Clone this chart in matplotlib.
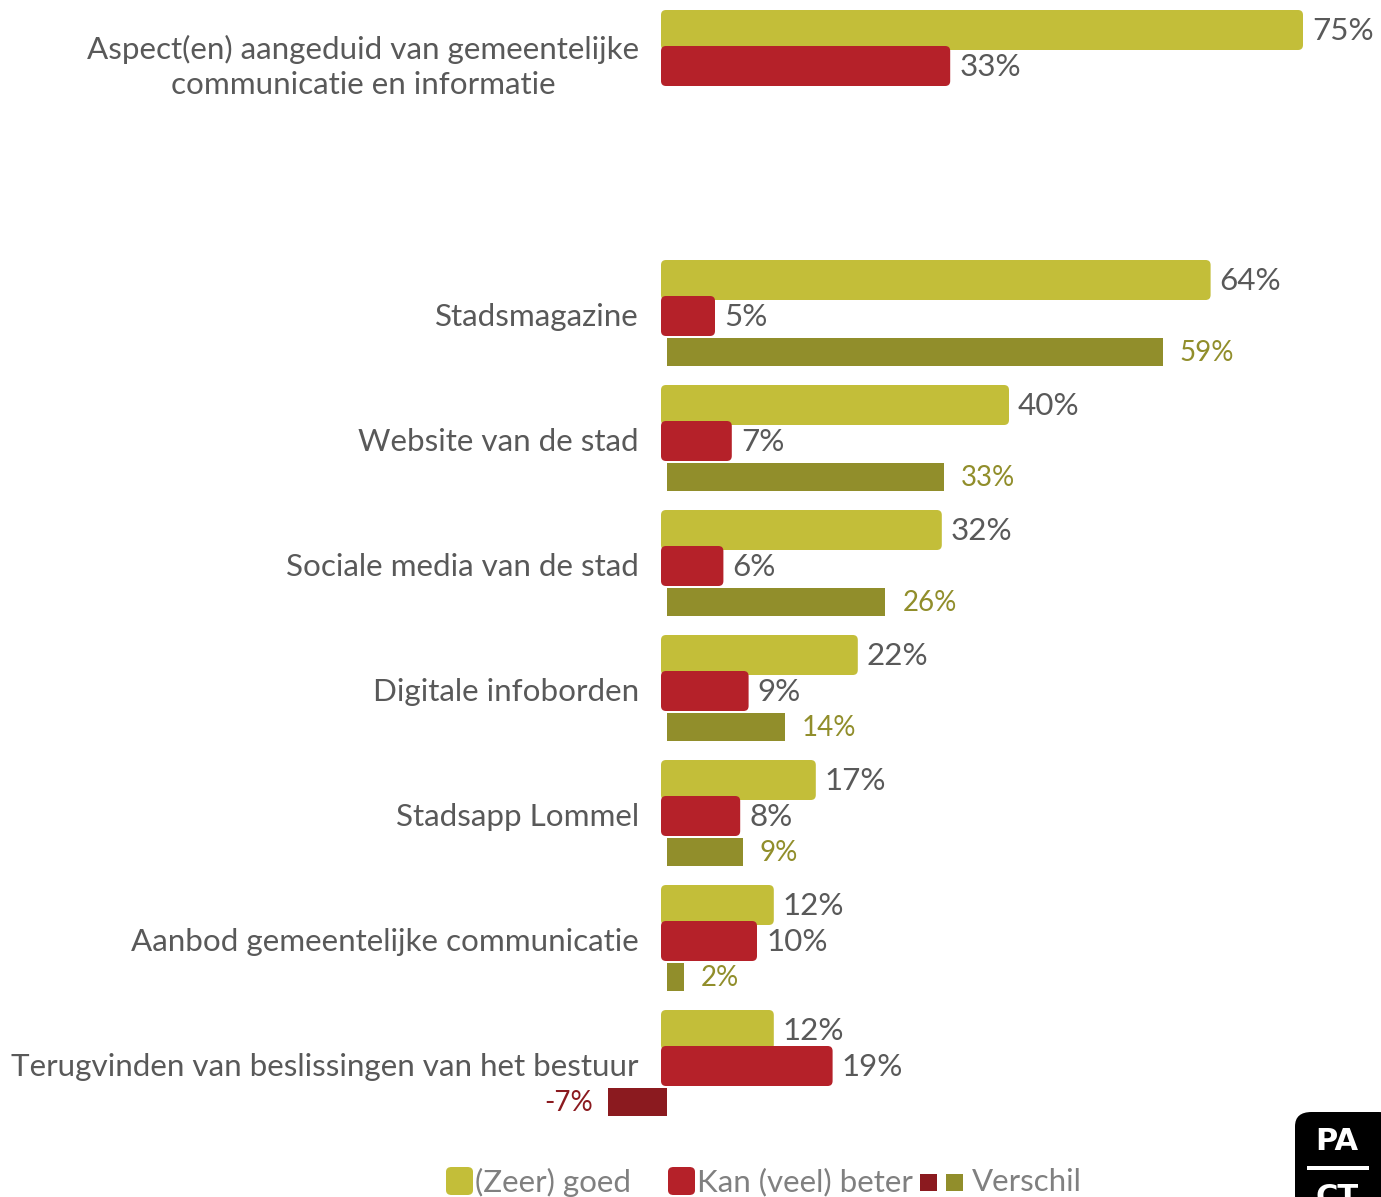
import matplotlib
import numpy as np
import matplotlib.pyplot as plt
from matplotlib.patches import FancyBboxPatch, Rectangle

W, H = 1381, 1197
PX_PER_PCT = 8.40
ZERO_PX = 667
PAD_PX = 6

matplotlib.rcParams.update({'font.family': ['Lato', 'DejaVu Sans']})

categories = ["Aspect(en) aangeduid van gemeentelijke\ncommunicatie en informatie",
              "Stadsmagazine",
              "Website van de stad",
              "Sociale media van de stad",
              "Digitale infoborden",
              "Stadsapp Lommel",
              "Aanbod gemeentelijke communicatie",
              "Terugvinden van beslissingen van het bestuur"]
goed = [75, 64, 40, 32, 22, 17, 12, 12]
beter = [33, 5, 7, 6, 9, 8, 10, 19]
# no difference bar for the first (overall) row
verschil = [None, 59, 33, 26, 14, 9, 2, -7]

C_GOED = "#C3BE39"
C_BETER = "#B52129"
C_POS = "#918E2B"
C_NEG = "#8B1A1F"
C_TXT = "#595959"

fig = plt.figure(figsize=(W / 100, H / 100), dpi=100)
ax = fig.add_axes([0, 0, 1, 1])
ax.set_xlim(-ZERO_PX / PX_PER_PCT, (W - ZERO_PX) / PX_PER_PCT)
ax.set_ylim(H, 0)
ax.axis("off")

# row centres (pixels from top) -- overall row sits two slots above the rest
slots = np.array([-2, 0, 1, 2, 3, 4, 5, 6])
y_goed = 280 + 125 * slots
y_beter = y_goed + 36
y_diff = y_goed + 72

FS = 22.6
bars_g = ax.barh(y_goed, goed, height=28, color=C_GOED)
bars_b = ax.barh(y_beter, beter, height=28, color=C_BETER)


def round_bars(container, color):
    # excel-style bars: thick outline in the same colour, rounded corners
    for r in container:
        x, y = r.get_x(), r.get_y()
        w, h = r.get_width(), r.get_height()
        r.set_visible(False)
        p = FancyBboxPatch((x, y), w, h,
                           boxstyle=f"round,pad={PAD_PX / PX_PER_PCT},rounding_size={5 / PX_PER_PCT}",
                           mutation_aspect=PX_PER_PCT,
                           fc=color, ec="none")
        ax.add_patch(p)


round_bars(bars_g, C_GOED)
round_bars(bars_b, C_BETER)

for i, v in enumerate(verschil):
    if v is None:
        continue
    col = C_POS if v >= 0 else C_NEG
    ax.barh(y_diff[i], v, height=28, color=col)
    if v >= 0:
        ax.text(v + 17 / PX_PER_PCT, y_diff[i] + 1, f"{v}%", color=col,
                fontsize=20, va="center", ha="left")
    else:
        ax.text(v - 15 / PX_PER_PCT, y_diff[i] + 1, f"{v}%", color=col,
                fontsize=20, va="center", ha="right")

lab_off = (PAD_PX + 9) / PX_PER_PCT
for i in range(len(categories)):
    ax.text(goed[i] + lab_off, y_goed[i] + 1, f"{goed[i]}%", color=C_TXT,
            fontsize=FS, va="center", ha="left")
    ax.text(beter[i] + lab_off, y_beter[i] + 1, f"{beter[i]}%", color=C_TXT,
            fontsize=FS, va="center", ha="left")
    ax.text((639 - ZERO_PX) / PX_PER_PCT, y_beter[i] + 1, categories[i],
            color=C_TXT, fontsize=FS, va="center", ha="right",
            multialignment="center", linespacing=1.3)


# legend, drawn in pixel space
def px(x, y):
    return x / W, 1 - y / H


LEG_C = "#808080"
lfs = 22.5
for (x0, col) in [(446, C_GOED), (668, C_BETER)]:
    fig.patches.append(FancyBboxPatch(px(x0, 1195), 27 / W, 28 / H,
                                      boxstyle="round,pad=0,rounding_size=0.004",
                                      transform=fig.transFigure, fc=col, ec="none"))
for (x0, col) in [(920, C_NEG), (946, C_POS)]:
    fig.patches.append(Rectangle(px(x0, 1191), 17 / W, 17 / H,
                                 transform=fig.transFigure, fc=col, ec="none"))
fig.text(*px(475, 1182), "(Zeer) goed", color=LEG_C, fontsize=lfs, va="center", ha="left")
fig.text(*px(697, 1182), "Kan (veel) beter", color=LEG_C, fontsize=lfs, va="center", ha="left")
fig.text(*px(972, 1182), "Verschil", color=LEG_C, fontsize=lfs, va="center", ha="left")

# logo in the corner (cut off by the edge, as in the source)
fig.patches.append(FancyBboxPatch(px(1295, 1210), 100 / W, 98 / H,
                                  boxstyle="round,pad=0,rounding_size=0.012",
                                  transform=fig.transFigure, fc="black", ec="none"))
fig.text(*px(1337, 1142), "PA", color="white", fontsize=22, fontweight="bold",
         va="center", ha="center", family="DejaVu Sans")
fig.patches.append(Rectangle(px(1307, 1170), 62 / W, 4 / H,
                             transform=fig.transFigure, fc="white", ec="none"))
fig.text(*px(1337, 1197), "CT", color="white", fontsize=22, fontweight="bold",
         va="center", ha="center", family="DejaVu Sans")

fig.savefig("out.png", dpi=100)
